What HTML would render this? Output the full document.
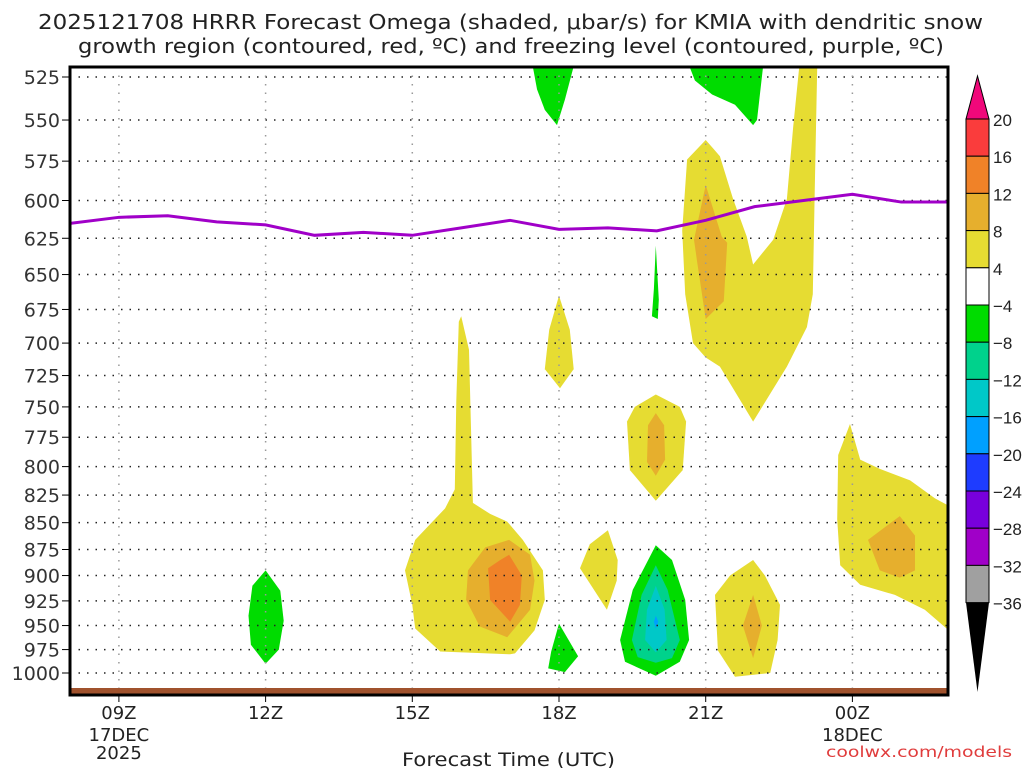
<!DOCTYPE html>
<html><head><meta charset="utf-8"><style>
html,body{margin:0;padding:0;background:#fff;}
svg{display:block;font-family:"DejaVu Sans","Liberation Sans",sans-serif;}
</style></head><body>
<svg id="chart" width="1024" height="768" viewBox="0 0 1024 768" xmlns="http://www.w3.org/2000/svg">
<text x="38" y="29" font-size="20" textLength="945" lengthAdjust="spacingAndGlyphs" fill="#222">2025121708 HRRR Forecast Omega (shaded, μbar/s) for KMIA with dendritic snow</text>
<text x="78" y="53" font-size="20" textLength="866" lengthAdjust="spacingAndGlyphs" fill="#222">growth region (contoured, red, ºC) and freezing level (contoured, purple, ºC)</text>
<g id="fills"></g>
<g id="grid"></g>
<g id="frz"></g>
<rect x="70" y="688" width="878" height="7" fill="#a0522d"/>
<rect x="70" y="67" width="878" height="628" fill="none" stroke="#000" stroke-width="3"/>
<g id="axes"></g>
<g id="cbar"></g>
<text x="402" y="766" font-size="19" textLength="213" lengthAdjust="spacingAndGlyphs" fill="#222">Forecast Time (UTC)</text>
<text x="826" y="757" font-size="15" textLength="186" lengthAdjust="spacingAndGlyphs" fill="#e03c3c">coolwx.com/models</text>
</svg>
<script>
const pLevels=[525,550,575,600,625,650,675,700,725,750,775,800,825,850,875,900,925,950,975,1000];
const xTickHours=[9,12,15,18,21,24];
const xTickLabels=["09Z","12Z","15Z","18Z","21Z","00Z"];
const frzHours=[8,9,10,11,12,13,14,15,16,17,18,19,20,21,22,23,24,25,26];
const frzP=[615,611,610,614,616,623,621,623,618,613,619,618,620,613,604,600,596,601,601];
const cbarLabels=["20","16","12","8","4","−4","−8","−12","−16","−20","−24","−28","−32","−36"];
const cbarColors=["#fa3c3c","#f08228","#e6af2d","#e6dc32","#ffffff","#00dc00","#00d28c","#00c8c8","#00a0ff","#1e3cff","#7800dc","#a000c8","#a0a0a0"];
const Y="#e6dc32",G="#e6af2d",O="#f08228",GR="#00dc00",TE="#00d28c",CY="#00c8c8",BL="#00a0ff";
const blobColors=[GR,Y,G,O,Y,GR,Y,G,Y,GR,GR,TE,CY,BL,Y,G,Y,G,GR,GR,Y,G];
const blobs=[
[[12,895],[12.3,915],[12.37,945],[12.27,975],[12,990],[11.7,970],[11.65,940],[11.73,910]],
[[16.0,680],[16.16,705],[16.24,832],[16.59,842],[16.94,849],[17.26,866],[17.67,895],[17.71,924],[17.5,955],[17.1,979],[17.0,980],[15.57,977],[15.06,953],[15.0,929],[14.85,895],[15.06,866],[15.67,837],[15.87,820],[15.9,745],[15.95,684]],
[[16.98,866],[17.41,880],[17.5,905],[17.41,934],[16.94,962],[16.38,951],[16.1,924],[16.14,895],[16.49,873]],
[[16.98,880],[17.24,900],[17.2,929],[17.0,946],[16.59,924],[16.55,893],[16.8,885]],
[[18,665],[18.22,690],[18.3,720],[18.02,735],[17.71,720],[17.8,690]],
[[19.98,630],[20.04,668],[20.02,682],[19.9,680],[19.94,660]],
[[19.98,740],[20.47,750],[20.6,762],[20.53,803],[19.98,830],[19.45,803],[19.39,762],[19.55,750]],
[[19.98,755],[20.15,765],[20.17,794],[19.98,808],[19.8,796],[19.82,765]],
[[19.0,857],[19.2,885],[19.18,905],[18.98,934],[18.43,893],[18.63,870]],
[[18,948],[18.39,982],[18.12,999],[17.78,995],[17.84,977]],
[[19.98,871],[20.31,885],[20.58,924],[20.66,965],[20.47,988],[19.98,1003],[19.35,988],[19.25,965],[19.51,914]],
[[19.98,890],[20.22,914],[20.47,965],[20.31,984],[19.98,989],[19.61,983],[19.49,965],[19.69,919]],
[[19.98,910],[20.16,934],[20.2,965],[19.98,978],[19.76,965],[19.8,934]],
[[19.98,940],[20.03,946],[19.98,953],[19.94,946]],
[[21.97,885],[22.21,900],[22.52,929],[22.47,965],[22.32,1000],[21.6,1004],[21.25,976],[21.19,919],[21.5,900]],
[[21.97,919],[22.15,950],[21.97,984],[21.76,950]],
[[21,562],[20.62,574],[20.52,620],[20.58,664],[20.74,700],[21,711],[21.29,718],[21.97,762],[22.66,718],[23.07,688],[23.19,664],[23.23,595],[23.28,520],[22.91,520],[22.79,554],[22.66,599],[22.38,626],[21.97,643],[21.84,624],[21.56,599],[21.29,572],[21.15,567]],
[[21,590],[21.33,624],[21.44,628],[21.37,669],[21,682],[20.82,640],[20.76,626]],
[[17.47,520],[18.29,520],[18.12,538],[17.96,553],[17.71,544],[17.55,532]],
[[20.68,520],[22.17,520],[22.05,550],[21.97,553],[21.6,541],[21.13,535],[20.78,527]],
[[23.95,764],[24.16,794],[24.56,802],[25.18,812],[25.69,828],[26.2,840],[26.2,965],[25.48,934],[24.87,919],[24.16,909],[23.75,890],[23.69,847],[23.71,790]],
[[24.97,844],[25.28,862],[25.28,895],[24.97,902],[24.56,895],[24.32,866]]
];
const X0=70,X1=948,Y0=67,Y1=695,H0=8,PXH=48.9;
function xs(h){return X0+(h-H0)*PXH;}
function ys(p){return 77+(Math.log(p)-Math.log(525))/(Math.log(1000)-Math.log(525))*596;}
const NS="http://www.w3.org/2000/svg";
function mk(t,a,parent){const e=document.createElementNS(NS,t);for(const k in a)e.setAttribute(k,a[k]);parent.appendChild(e);return e;}
const svg=document.getElementById('chart');
const defs=mk('defs',{},svg);
const cp=mk('clipPath',{id:'clip'},defs);mk('rect',{x:X0,y:Y0,width:X1-X0,height:Y1-Y0},cp);
const fills=document.getElementById('fills');fills.setAttribute('clip-path','url(#clip)');
blobs.forEach((b,i)=>{
  const pts=b.map(q=>xs(q[0]).toFixed(1)+','+ys(q[1]).toFixed(1)).join(' ');
  const e=mk('polygon',{points:pts,fill:blobColors[i]},fills);
  
  
});
const grid=document.getElementById('grid');
pLevels.forEach(p=>{const e=mk('line',{x1:X0,x2:X1,y1:ys(p),y2:ys(p),stroke:'#222','stroke-width':1.5,'stroke-dasharray':'1.5,7'},grid);
});
xTickHours.forEach(h=>{const e=mk('line',{x1:xs(h),x2:xs(h),y1:Y0,y2:Y1,stroke:'#999','stroke-width':1.5,'stroke-dasharray':'1.5,7'},grid);
});
const frz=document.getElementById('frz');frz.setAttribute('clip-path','url(#clip)');
const fl=mk('polyline',{points:frzHours.map((h,i)=>xs(h)+','+ys(frzP[i])).join(' '),fill:'none',stroke:'#a000c8','stroke-width':3},frz);

const ax=document.getElementById('axes');
pLevels.forEach(p=>{
  mk('line',{x1:X0-8,x2:X0,y1:ys(p),y2:ys(p),stroke:'#000','stroke-width':1},ax);
  const t=mk('text',{x:X0-10,y:ys(p)+7,'font-size':19,'text-anchor':'end',fill:'#333'},ax);t.textContent=p;
  
});
xTickHours.forEach((h,i)=>{
  mk('line',{x1:xs(h),x2:xs(h),y1:Y1,y2:Y1+7,stroke:'#000','stroke-width':1},ax);
  const t=mk('text',{x:xs(h),y:Y1+24,'font-size':18,'text-anchor':'middle',fill:'#222'},ax);t.textContent=xTickLabels[i];
  
});
[["17DEC",9,741],["2025",9,759],["18DEC",24,741]].forEach(d=>{
  const t=mk('text',{x:xs(d[1]),y:d[2],'font-size':18,'text-anchor':'middle',fill:'#222'},ax);t.textContent=d[0];
  
});
const cb=document.getElementById('cbar');
const cx0=966,cx1=989,cTop=119,seg=37.2;
mk('polygon',{points:`${cx0},${cTop} ${cx1},${cTop} ${(cx0+cx1)/2},76`,fill:'#f0087a',stroke:'#000'},cb);
cbarColors.forEach((c,i)=>{const r=mk('rect',{x:cx0,y:cTop+i*seg,width:cx1-cx0,height:seg,fill:c,stroke:'#000','stroke-width':1},cb);
});
const cb2=cTop+cbarColors.length*seg;
mk('polygon',{points:`${cx0},${cb2} ${cx1},${cb2} ${(cx0+cx1)/2},692`,fill:'#000'},cb);
cbarLabels.forEach((l,i)=>{const t=mk('text',{x:993,y:cTop+i*seg+7,'font-size':17,fill:'#222','font-family':'Liberation Sans, sans-serif'},cb);t.textContent=l;
});
</script>
</body></html>
